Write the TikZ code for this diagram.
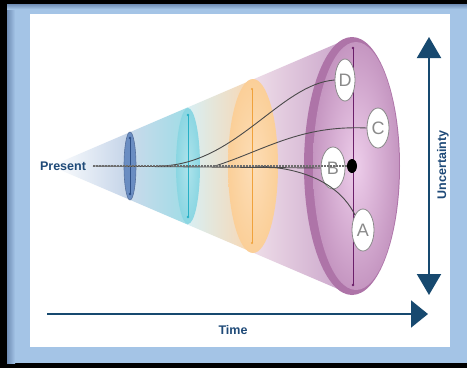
\documentclass[tikz,border=0pt]{standalone}
\usepackage{fontspec}
\setmainfont{Liberation Sans}
\usetikzlibrary{shapes.geometric,arrows.meta}
\definecolor{navy}{HTML}{17496F}
\definecolor{txtblue}{HTML}{1F4A78}
\definecolor{framblue}{HTML}{A4C4E6}
\definecolor{framdark}{HTML}{6F8DB5}
\definecolor{segA}{HTML}{C3D3E8}
\definecolor{segB1}{HTML}{C9DAEB}
\definecolor{segB2}{HTML}{9FDCE6}
\definecolor{segC1}{HTML}{D8EFF3}
\definecolor{segC2}{HTML}{FAD6B0}
\definecolor{segD1}{HTML}{EEDDE8}
\definecolor{segD2}{HTML}{C7A0C8}
\definecolor{bluefill}{HTML}{6A8DC2}
\definecolor{blueline}{HTML}{2D4F86}
\definecolor{cyanfill}{HTML}{8AD6E2}
\definecolor{cyanline}{HTML}{27B0C6}
\definecolor{orfill}{HTML}{FBCF98}
\definecolor{orline}{HTML}{F0A23C}
\definecolor{purout}{HTML}{AE74A8}
\definecolor{purmid}{HTML}{C596C1}
\definecolor{purin}{HTML}{EDCDEA}
\definecolor{purline}{HTML}{6B1F6A}
\definecolor{curve}{HTML}{4A4A4A}
\definecolor{lettergray}{HTML}{8A8A8A}
\tikzset{
  lbl/.style={font=\bfseries\fontsize{12.5}{14}\selectfont, text=txtblue, inner sep=0pt},
  scen/.style={ellipse, draw=lettergray, line width=0.8pt, fill=white, inner sep=0pt,
    text=lettergray, font=\fontsize{18}{18}\selectfont},
  path/.style={draw=curve, line width=0.9pt},
  bigarrow/.style={draw=navy, line width=2pt}
}
\begin{document}
\begin{tikzpicture}[x=1pt,y=-1pt]
\useasboundingbox (0,0) rectangle (467,368);
% frame
\fill[black] (0,0) rectangle (467,368);
\fill[framblue] (7,4) rectangle (467,363);
\shade[left color=framdark, right color=framblue] (7,4) rectangle (15,363);
\shade[top color=framdark, bottom color=framblue] (7,4) rectangle (467,9);
\fill[white] (30,14) rectangle (450,347);
% cone
\begin{scope}
\clip (51,166) -- (352,37) -- (352,295) -- cycle;
\shade[left color=white, right color=segA] (51,30) rectangle (130,300);
\shade[left color=segB1, right color=segB2] (130,30) rectangle (188,300);
\shade[left color=segC1, right color=segC2] (188,30) rectangle (253,300);
\shade[left color=segD1, right color=segD2] (253,30) rectangle (353,300);
\end{scope}
% ellipses
\fill[bluefill, draw=blueline!80, line width=0.6pt] (130,166) ellipse [x radius=6pt, y radius=34pt];
\draw[blueline, line width=1pt] (130,138) -- (130,194);
\fill[blueline] (130,138) circle (1.3pt) (130,194) circle (1.3pt);
\shade[inner color=cyanfill!70, outer color=cyanfill] (188,166) ellipse [x radius=12pt, y radius=58pt];
\draw[cyanline, line width=0.9pt] (188,115) -- (188,217);
\fill[cyanline] (188,115) circle (1.3pt) (188,217) circle (1.3pt);
\shade[inner color=orfill!70, outer color=orfill] (253,166) ellipse [x radius=25pt, y radius=87pt];
\draw[orline, line width=0.8pt] (252,89) -- (252,243);
\fill[orline] (252,89) circle (1.2pt) (252,243) circle (1.2pt);
\fill[purout] (352,166) ellipse [x radius=48pt, y radius=129pt];
\shade[inner color=purin, outer color=purmid] (356,166) ellipse [x radius=43pt, y radius=124pt];
\draw[purline, line width=0.8pt] (353,48) -- (353,285);
\fill[purline] (353,48) circle (1.3pt) (353,285) circle (1.3pt);
% labels and scenario nodes
\node[lbl] (present) at (63,166) {Present};
\coordinate (p0) at (93,166);
\coordinate (sD) at (158,166);
\coordinate (sC) at (215,166);
\coordinate (sA) at (255,166);
\node[scen, minimum width=20pt, minimum height=42pt] (D) at (345,80) {D};
\node[scen, minimum width=22pt, minimum height=40pt] (C) at (378,128) {C};
\node[scen, minimum width=24pt, minimum height=42pt] (B) at (333,168) {B};
\node[scen, minimum width=22pt, minimum height=42pt] (A) at (363,230) {A};
\node[ellipse, fill=black, minimum width=10pt, minimum height=14pt, inner sep=0pt] (dot) at (352,166) {};
% paths
\draw[path] (sD) .. controls (235,166) and (280,84) .. (D.west);
\draw[path] (sC) .. controls (265,150) and (300,125) .. (C.west);
\draw[path] (p0) -- (B.west);
\draw[path] (sA) .. controls (320,168) and (345,195) .. (A.north west);
\draw[curve!80, line width=1.1pt, dash pattern=on 1.5pt off 1.5pt] (p0) -- (dot.west);
% axes
\coordinate (u1) at (429,37);
\coordinate (u2) at (429,295);
\draw[bigarrow, {Triangle[length=21pt,width=24pt]}-{Triangle[length=21pt,width=24pt]}] (u1) -- (u2);
\node[lbl, rotate=90] (unc) at (443,165) {Uncertainty};
\coordinate (t1) at (47,314);
\coordinate (t2) at (428,314);
\draw[bigarrow, -{Triangle[length=17pt,width=27pt]}] (t1) -- (t2);
\node[lbl] (time) at (233,330) {Time};
\end{tikzpicture}
\end{document}
